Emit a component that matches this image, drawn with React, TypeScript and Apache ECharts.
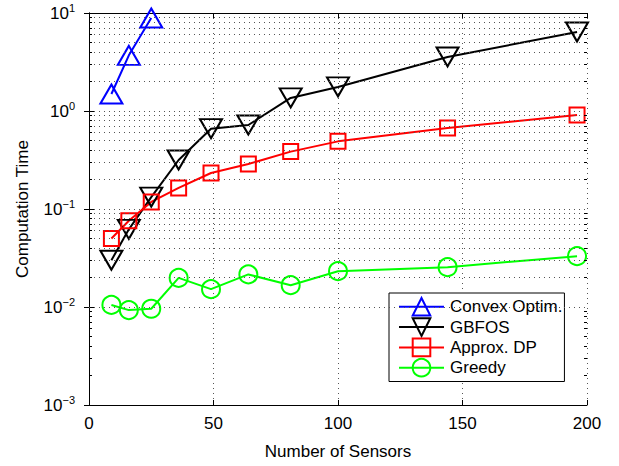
import React, { useEffect, useRef } from "react";
import * as echarts from "echarts";

const sensors = [9, 16, 25, 36, 49, 64, 81, 100, 144, 196];
const convexX = [9, 16, 25];
const convexY = [1.49, 3.7, 8.9];
const gbfosY = [0.03, 0.062, 0.132, 0.316, 0.66, 0.72, 1.36, 1.76, 3.56, 6.4];
const approxY = [0.05, 0.076, 0.118, 0.164, 0.233, 0.288, 0.385, 0.49, 0.67, 0.91];
const greedyY = [0.0105, 0.0093, 0.0096, 0.0198, 0.0152, 0.0215, 0.0167, 0.0232, 0.0255, 0.033];
const minorGridY = [
  0.002, 0.003, 0.004, 0.005, 0.006, 0.007, 0.008, 0.009,
  0.02, 0.03, 0.04, 0.05, 0.06, 0.07, 0.08, 0.09,
  0.2, 0.3, 0.4, 0.5, 0.6, 0.7, 0.8, 0.9,
  2, 3, 4, 5, 6, 7, 8, 9,
];
const X_MIN = 0;
const X_MAX = 200;
const MINOR_TICK_LEN = 1.2; // in x data units

const FONT = "'Liberation Sans', Arial, Helvetica, sans-serif";
const gridDot = { type: [1, 4] as any, color: "#555", width: 1 };

function pairs(xs: number[], ys: number[]) {
  return xs.map((x, i) => [x, ys[i]]);
}

function mkSeries(name: string, color: string, symbol: string, size: any, data: number[][], rotate = 0) {
  return {
    name,
    type: "line",
    data,
    symbol,
    symbolSize: size,
    symbolRotate: rotate,
    lineStyle: { color, width: 2 },
    itemStyle: { color: "rgba(0,0,0,0)", borderColor: color, borderWidth: 2 },
    z: 3,
  };
}

export default function App() {
  const ref = useRef<HTMLDivElement>(null);
  useEffect(() => {
    if (!ref.current) return;
    const chart = echarts.init(ref.current, undefined, { renderer: "svg" });
    const supFmt = (v: number) => {
      const e = Math.round(Math.log10(v));
      const s = e < 0 ? "\u2212" + -e : String(e);
      return `{b|10}{s|${s}}`;
    };
    const minorTicks = [
      ...minorGridY.map((v) => [{ coord: [X_MIN, v] }, { coord: [X_MIN + MINOR_TICK_LEN, v] }]),
      ...minorGridY.map((v) => [{ coord: [X_MAX - MINOR_TICK_LEN, v] }, { coord: [X_MAX, v] }]),
    ];
    chart.setOption({
      animation: false,
      textStyle: { fontFamily: FONT },
      grid: { left: 89, right: 32, top: 13, bottom: 61 },
      legend: {
        orient: "vertical",
        left: 389,
        top: 293,
        padding: [4, 2, 4, 9],
        itemWidth: 45,
        itemHeight: 22,
        itemGap: 0.7,
        backgroundColor: "#fff",
        borderColor: "#000",
        borderWidth: 1,
        textStyle: { fontSize: 17, color: "#000", fontFamily: FONT, padding: [0, 0, 0, 1] },
        data: ["Convex Optim.", "GBFOS", "Approx. DP", "Greedy"],
      },
      xAxis: [
        {
          type: "value",
          min: X_MIN,
          max: X_MAX,
          interval: 50,
          name: "Number of Sensors",
          nameLocation: "middle",
          nameGap: 38,
          nameTextStyle: { fontSize: 17, color: "#000", fontFamily: FONT },
          axisLine: { lineStyle: { color: "#000", width: 1 } },
          axisTick: { inside: true, length: 5, lineStyle: { color: "#000" } },
          axisLabel: { fontSize: 17, color: "#000", margin: 10, fontFamily: FONT },
          splitLine: { show: true, lineStyle: gridDot },
        },
        {
          type: "value",
          position: "top",
          min: X_MIN,
          max: X_MAX,
          interval: 50,
          axisLine: { lineStyle: { color: "#000", width: 1 } },
          axisTick: { inside: true, length: 5, lineStyle: { color: "#000" } },
          axisLabel: { show: false },
          splitLine: { show: false },
        },
      ],
      yAxis: [
        {
          type: "log",
          logBase: 10,
          min: 0.001,
          max: 10,
          name: "Computation Time",
          nameLocation: "middle",
          nameGap: 58,
          nameTextStyle: { fontSize: 17, color: "#000", fontFamily: FONT },
          axisLine: { show: true, lineStyle: { color: "#000", width: 1 } },
          axisTick: { inside: true, length: 5, lineStyle: { color: "#000" } },
          axisLabel: {
            margin: 14,
            formatter: supFmt,
            rich: {
              b: { fontSize: 17, color: "#000", fontFamily: FONT, lineHeight: 22 },
              s: { fontSize: 11, color: "#000", fontFamily: FONT, lineHeight: 11, verticalAlign: "top" },
            },
          },
          splitLine: { show: true, lineStyle: gridDot },
        },
        {
          type: "log",
          logBase: 10,
          min: 0.001,
          max: 10,
          position: "right",
          axisLine: { show: true, lineStyle: { color: "#000", width: 1 } },
          axisTick: { inside: true, length: 5, lineStyle: { color: "#000" } },
          axisLabel: { show: false },
          splitLine: { show: false },
        },
      ],
      series: [
        {
          name: "grid",
          type: "line",
          data: [],
          silent: true,
          markLine: {
            silent: true,
            symbol: ["none", "none"],
            label: { show: false },
            lineStyle: gridDot,
            data: minorGridY.map((v) => ({ yAxis: v })),
          },
          z: 1,
        },
        {
          name: "minorTicks",
          type: "line",
          data: [],
          silent: true,
          markLine: {
            silent: true,
            symbol: ["none", "none"],
            label: { show: false },
            lineStyle: { type: "solid", color: "#000", width: 1 },
            data: minorTicks,
          },
          z: 2,
        },
        mkSeries("Convex Optim.", "#0000ff", "triangle", [22, 19], pairs(convexX, convexY)),
        mkSeries("GBFOS", "#000000", "triangle", [22, 19], pairs(sensors, gbfosY), 180),
        mkSeries("Approx. DP", "#ff0000", "rect", 15, pairs(sensors, approxY)),
        mkSeries("Greedy", "#00ff00", "circle", 18, pairs(sensors, greedyY)),
      ],
    });
    return () => chart.dispose();
  }, []);
  return (
    <div
      ref={ref}
      style={{ position: "absolute", left: 0, top: 0, width: 619, height: 466 }}
    />
  );
}
